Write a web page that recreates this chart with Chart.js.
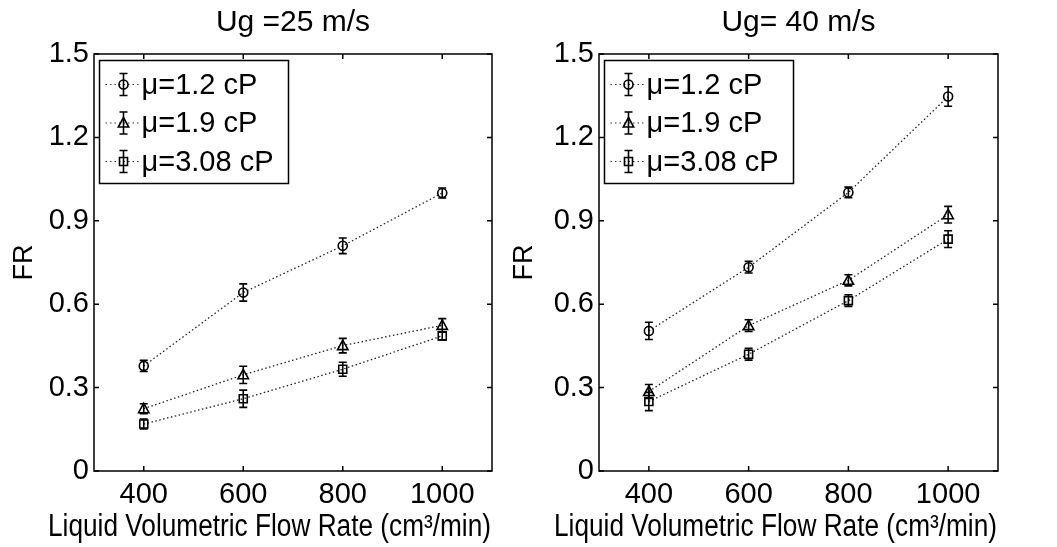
<!DOCTYPE html>
<html><head><meta charset="utf-8">
<script src="https://cdn.jsdelivr.net/npm/chart.js@4"></script>
<style>
html,body{margin:0;padding:0;background:#fff;width:1057px;height:547px;overflow:hidden}
.wrap{position:absolute;top:0;height:547px}
#w1{left:0;width:500px}
#w2{left:500px;width:557px}
</style></head><body>
<div class="wrap" id="w1"><canvas id="c1"></canvas></div>
<div class="wrap" id="w2"><canvas id="c2"></canvas></div>
<script>
// ---- data ----
const flowRates = [400, 600, 800, 1000];
const xTicks = [400, 600, 800, 1000];
const yTicks = [0, 0.3, 0.6, 0.9, 1.2, 1.5];
const yTickLabels = ['0', '0.3', '0.6', '0.9', '1.2', '1.5'];
const seriesNames = ['\u03bc=1.2 cP', '\u03bc=1.9 cP', '\u03bc=3.08 cP'];
const chartTitles = ['Ug =25 m/s', 'Ug= 40 m/s'];
const xTitle = 'Liquid Volumetric Flow Rate (cm\u00b3/min)';
const yTitle = 'FR';

// Ug = 25 m/s
const fr25_mu12 = [0.378, 0.642, 0.81, 1.0];
const err25_mu12 = [0.02, 0.031, 0.028, 0.018];
const fr25_mu19 = [0.224, 0.346, 0.451, 0.524];
const err25_mu19 = [0.018, 0.031, 0.026, 0.024];
const fr25_mu308 = [0.169, 0.26, 0.366, 0.486];
const err25_mu308 = [0.018, 0.031, 0.025, 0.015];

// Ug = 40 m/s
const fr40_mu12 = [0.504, 0.733, 1.002, 1.347];
const err40_mu12 = [0.031, 0.021, 0.019, 0.035];
const fr40_mu19 = [0.286, 0.523, 0.686, 0.922];
const err40_mu19 = [0.025, 0.021, 0.02, 0.03];
const fr40_mu308 = [0.25, 0.42, 0.613, 0.834];
const err40_mu308 = [0.033, 0.021, 0.021, 0.03];

const markerStyles = ['circle', 'triangle', 'rect'];
const FONT = "'Liberation Sans', Arial, sans-serif";

function drawMarker(ctx, style, x, y) {
  ctx.beginPath();
  if (style === 'circle') {
    ctx.arc(x, y, 4.5, 0, Math.PI * 2);
  } else if (style === 'triangle') {
    ctx.moveTo(x, y - 5.5);
    ctx.lineTo(x + 5.2, y + 4);
    ctx.lineTo(x - 5.2, y + 4);
    ctx.closePath();
  } else {
    ctx.rect(x - 4, y - 4, 8, 8);
  }
  ctx.stroke();
}

function drawErrBar(ctx, x, yTop, yBot, cap) {
  ctx.beginPath();
  ctx.moveTo(x, yTop); ctx.lineTo(x, yBot);
  ctx.moveTo(x - cap, yTop); ctx.lineTo(x + cap, yTop);
  ctx.moveTo(x - cap, yBot); ctx.lineTo(x + cap, yBot);
  ctx.stroke();
}

const errorBarPlugin = {
  id: 'errorBars',
  afterDatasetsDraw(chart) {
    const ctx = chart.ctx, ys = chart.scales.y;
    ctx.save();
    ctx.strokeStyle = '#000';
    ctx.lineWidth = 1.6;
    ctx.setLineDash([]);
    chart.data.datasets.forEach((ds, i) => {
      const meta = chart.getDatasetMeta(i);
      meta.data.forEach((pt, j) => {
        const v = ds.data[j].y, e = ds.errors[j];
        drawErrBar(ctx, pt.x, ys.getPixelForValue(v + e), ys.getPixelForValue(v - e), 4);
        drawMarker(ctx, ds.marker, pt.x, pt.y);
      });
    });
    ctx.restore();
  }
};

const framePlugin = {
  id: 'frameTicks',
  afterDraw(chart) {
    const ctx = chart.ctx, a = chart.chartArea;
    const xs = chart.scales.x, ys = chart.scales.y;
    const L = 5;
    ctx.save();
    ctx.strokeStyle = '#000';
    ctx.lineWidth = 1.5;
    ctx.setLineDash([]);
    ctx.beginPath();
    xs.ticks.forEach(t => {
      const px = xs.getPixelForValue(t.value);
      ctx.moveTo(px, a.bottom); ctx.lineTo(px, a.bottom - L);
      ctx.moveTo(px, a.top); ctx.lineTo(px, a.top + L);
    });
    ys.ticks.forEach(t => {
      const py = ys.getPixelForValue(t.value);
      ctx.moveTo(a.left, py); ctx.lineTo(a.left + L, py);
      ctx.moveTo(a.right, py); ctx.lineTo(a.right - L, py);
    });
    ctx.stroke();
    ctx.strokeRect(a.left, a.top, a.right - a.left, a.bottom - a.top);

    // x-axis title (right-aligned to the axis, compressed like the original)
    ctx.fillStyle = '#000';
    ctx.font = '31px ' + FONT;
    ctx.textAlign = 'right';
    ctx.textBaseline = 'middle';
    ctx.fillText(xTitle, a.right - 1, 527, 443);

    // legend
    const bx = a.left + 5.5, by = a.top + 6.5, bw = 189, bh = 123;
    ctx.fillStyle = '#fff';
    ctx.fillRect(bx, by, bw, bh);
    ctx.strokeRect(bx, by, bw, bh);
    chart.data.datasets.forEach((ds, i) => {
      const cy = by + 24 + i * 38.5;
      const mx = bx + 24;
      ctx.save();
      ctx.lineWidth = 1.2;
      ctx.strokeStyle = '#333';
      ctx.setLineDash([1.5, 3]);
      ctx.beginPath();
      ctx.moveTo(bx + 6, cy); ctx.lineTo(bx + 41, cy);
      ctx.stroke();
      ctx.restore();
      ctx.lineWidth = 1.6;
      ctx.fillStyle = '#fff';
      drawErrBar(ctx, mx, cy - 11, cy + 11, 4);
      drawMarker(ctx, ds.marker, mx, cy);
      ctx.fillStyle = '#000';
      ctx.font = '29px ' + FONT;
      ctx.textAlign = 'left';
      ctx.textBaseline = 'middle';
      ctx.fillText(ds.label, bx + 42, cy + 1);
    });
    ctx.restore();
  }
};

function makeChart(id, title, seriesVals, seriesErrs, yAxisWidth, padRight) {
  const datasets = seriesVals.map((vals, i) => ({
    label: seriesNames[i],
    data: flowRates.map((x, j) => ({ x: x, y: vals[j] })),
    errors: seriesErrs[i],
    marker: markerStyles[i],
    borderColor: '#222',
    borderWidth: 1.3,
    borderDash: [1.5, 2.5],
    pointRadius: 0,
    pointHoverRadius: 0,
    fill: false,
    tension: 0
  }));
  return new Chart(document.getElementById(id), {
    type: 'line',
    data: { datasets },
    options: {
      responsive: true,
      maintainAspectRatio: false,
      animation: false,
      events: [],
      layout: { padding: { left: 0, right: padRight, top: 0, bottom: 0 } },
      plugins: {
        legend: { display: false },
        tooltip: { enabled: false },
        title: {
          display: true, text: title, fullSize: false, color: '#000',
          font: { family: FONT, size: 30, weight: 'normal', lineHeight: 1.2 },
          padding: { top: 5, bottom: 13 }
        }
      },
      scales: {
        x: {
          type: 'linear', min: 300, max: 1100,
          afterBuildTicks: s => { s.ticks = xTicks.map(v => ({ value: v })); },
          afterFit: s => { s.height = 76; },
          grid: { display: false, drawTicks: false },
          border: { display: false },
          ticks: { color: '#000', padding: 7, font: { family: FONT, size: 29 }, callback: v => String(v), maxRotation: 0 },
          title: { display: false, text: xTitle }
        },
        y: {
          type: 'linear', min: 0, max: 1.5,
          afterBuildTicks: s => { s.ticks = yTicks.map(v => ({ value: v })); },
          afterFit: s => { s.width = yAxisWidth; },
          grid: { display: false, drawTicks: false },
          border: { display: false },
          ticks: { color: '#000', padding: 5, font: { family: FONT, size: 29 }, callback: (v, i) => yTickLabels[i] },
          title: { display: true, text: yTitle, color: '#000', font: { family: FONT, size: 27 }, padding: { top: 8, bottom: 0 } }
        }
      }
    },
    plugins: [errorBarPlugin, framePlugin]
  });
}

makeChart('c1', chartTitles[0], [fr25_mu12, fr25_mu19, fr25_mu308], [err25_mu12, err25_mu19, err25_mu308], 94, 8);
makeChart('c2', chartTitles[1], [fr40_mu12, fr40_mu19, fr40_mu308], [err40_mu12, err40_mu19, err40_mu308], 99, 59);
</script>
</body></html>
